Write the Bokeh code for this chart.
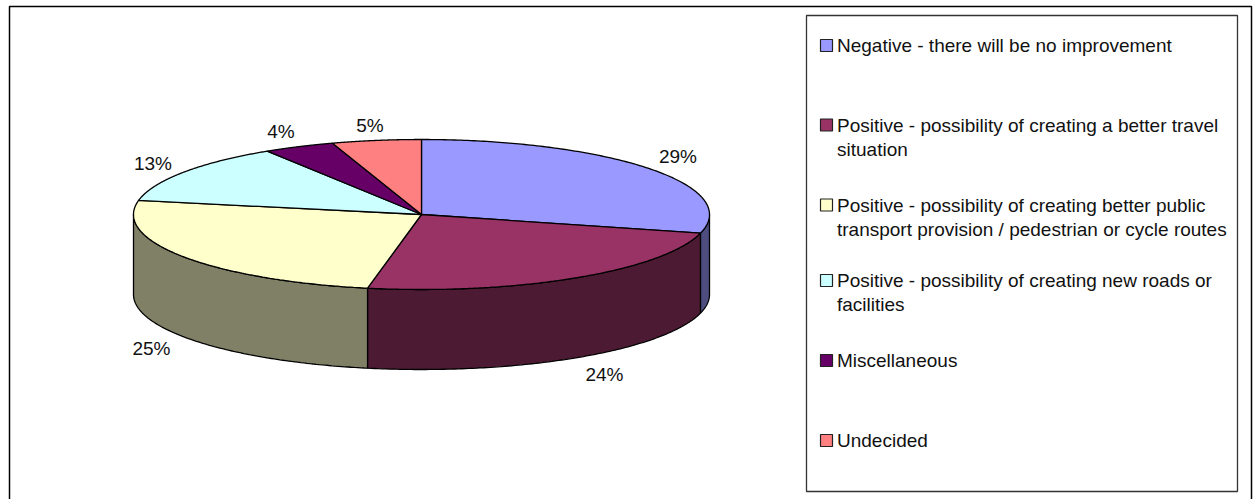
import numpy as np
from bokeh.plotting import figure
from bokeh.embed import file_html
from bokeh.resources import INLINE
from bokeh.core.properties import value

categories = [
    ["Negative - there will be no improvement"],
    ["Positive - possibility of creating a better travel", "situation"],
    ["Positive - possibility of creating better public", "transport provision / pedestrian or cycle routes"],
    ["Positive - possibility of creating new roads or", "facilities"],
    ["Miscellaneous"],
    ["Undecided"],
]
shares = [29, 24, 25, 13, 4, 5]
top_colors = ["#9999FF", "#993366", "#FFFFCC", "#CCFFFF", "#660066", "#FF8080"]
side_colors = ["#4D4D80", "#4D1A33", "#808066", "#668080", "#330033", "#804040"]

# layout constants (page pixels)
CX, CY, RX, RY, DEPTH = 421.0, 214.0, 288.0, 75.0, 80.0
W, H = 1254, 499
FONT = "Liberation Sans"
FS = "19px"
label_x = [677.5, 604, 151, 152.5, 280.5, 369.5]
label_y = [155.5, 373.5, 348, 162.5, 131, 124.5]
legend_y = [45, 124.5, 204.5, 280, 360, 440]
LINE_GAP = 24

p = figure(width=W, height=H, x_range=(0, W), y_range=(H, 0), output_backend="svg",
           toolbar_location=None, min_border=0, outline_line_color=None,
           background_fill_color="white", border_fill_color=None)
p.axis.visible = False
p.grid.visible = False

def ex(t):
    return CX + RX * np.sin(t)

def ey(t):
    return CY - RY * np.cos(t)

# outer frame (its bottom edge lies below the visible page)
p.quad(left=[9], right=[1251], top=[6], bottom=[505], fill_color="white",
       line_color="black", line_width=1.5)

edges = np.cumsum([0] + shares) / sum(shares) * 2 * np.pi

# side walls: only the part of each slice facing the viewer
for a, b, col in zip(edges[:-1], edges[1:], side_colors):
    lo, hi = max(a, np.pi / 2), min(b, 3 * np.pi / 2)
    if hi <= lo:
        continue
    t = np.linspace(lo, hi, 120)
    xs = np.r_[ex(t), ex(t[::-1])]
    ys = np.r_[ey(t), ey(t[::-1]) + DEPTH]
    p.patch(xs, ys, fill_color=col, line_color="black", line_width=1.3)

# top faces
for a, b, col in zip(edges[:-1], edges[1:], top_colors):
    t = np.linspace(a, b, 160)
    xs = np.r_[CX, ex(t)]
    ys = np.r_[CY, ey(t)]
    p.patch(xs, ys, fill_color=col, line_color="black", line_width=1.3)

# percent labels
p.text(x=label_x, y=label_y, text=[f"{v}%" for v in shares], text_font=value(FONT),
       text_font_size=value(FS), text_color="#111111", text_align="center", text_baseline="middle")

# legend
p.quad(left=[806], right=[1237], top=[15], bottom=[491], fill_color="white",
       line_color="#333333", line_width=1.3)
p.rect(x=[826] * 6, y=legend_y, width=12, height=12, fill_color=top_colors,
       line_color="#222222", line_width=1.2)
tx, ty, tt = [], [], []
for lines, y in zip(categories, legend_y):
    for i, s in enumerate(lines):
        tx.append(836.5)
        ty.append(y + i * LINE_GAP)
        tt.append(s)
p.text(x=tx, y=ty, text=tt, text_font=value(FONT), text_font_size=value(FS),
       text_color="#111111", text_align="left", text_baseline="middle")

open("out.html", "w").write(file_html(p, INLINE))
